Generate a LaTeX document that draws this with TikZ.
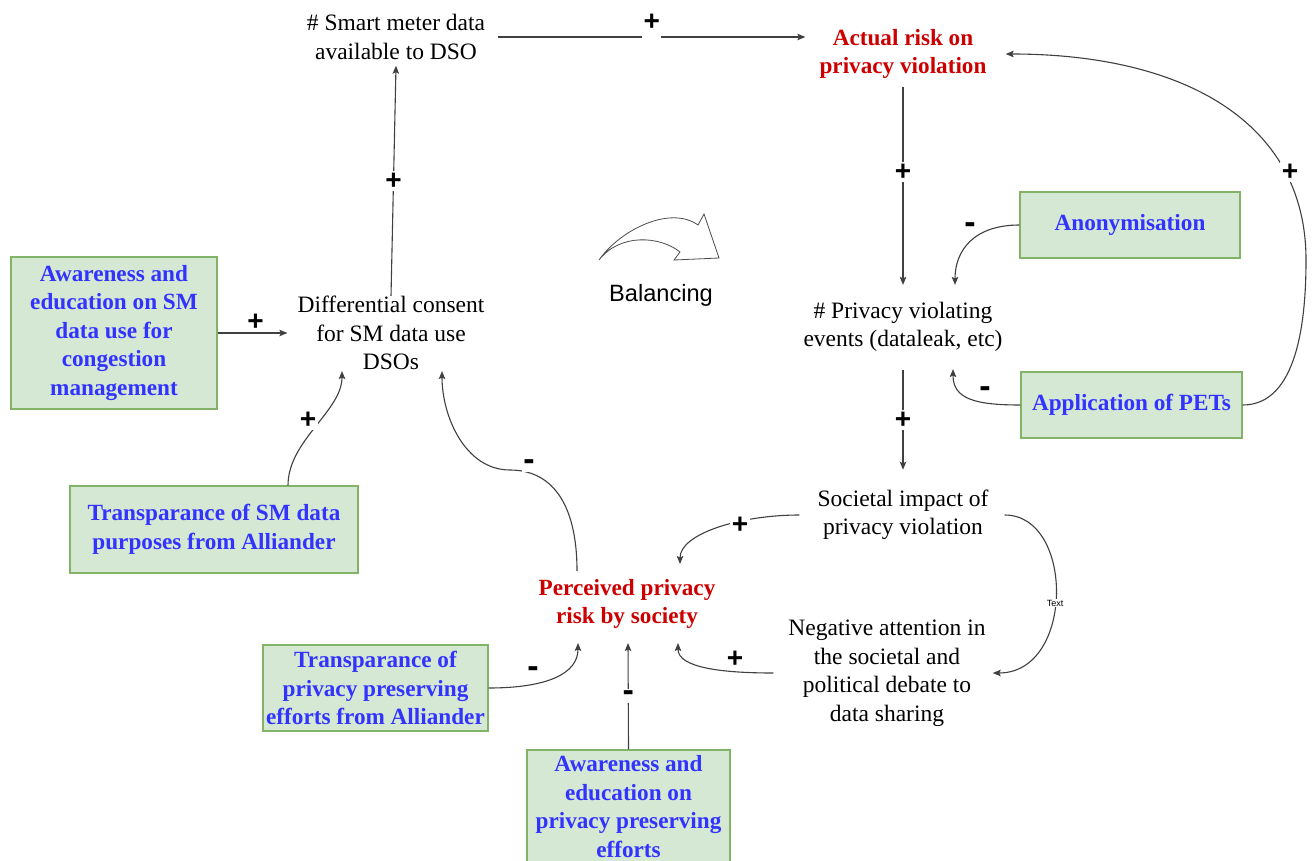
\documentclass[tikz,border=0pt]{standalone}
\usepackage{fontspec}
\setmainfont{Liberation Serif}
\newfontfamily\labelsans{Liberation Sans}
\usetikzlibrary{arrows.meta}
\definecolor{boxfill}{HTML}{D5E8D4}
\definecolor{boxline}{HTML}{82B366}
\definecolor{factorblue}{HTML}{3333FF}
\definecolor{riskred}{HTML}{CC0000}
\definecolor{edgegray}{HTML}{404040}

\tikzset{
  var/.style={align=center, inner sep=0pt, font=\fontsize{23.5}{28.5}\selectfont},
  risk/.style={align=center, inner sep=0pt, text=riskred, font=\bfseries\fontsize{23.2}{28.5}\selectfont},
  lever/.style={draw=boxline, fill=boxfill, line width=1.2pt, align=center, inner sep=2pt,
    text=factorblue, font=\bfseries\fontsize{23.2}{28.5}\selectfont},
  conn/.style={draw=edgegray, line width=1.1pt, -{Stealth[length=8pt,width=6.5pt,inset=1.5pt]}},
  pol/.style={fill=white, inner sep=1.5pt, text=black, font=\labelsans\bfseries\fontsize{28}{28}\selectfont},
  neg/.style={pol, font=\labelsans\bfseries\fontsize{34}{34}\selectfont},
  tinylbl/.style={fill=white, inner sep=0.5pt, text=black, font=\labelsans\fontsize{9}{9}\selectfont},
}

\begin{document}
\begin{tikzpicture}[x=1pt, y=-1pt]
\useasboundingbox (0,0) rectangle (1313,861);
\fill[white] (0,0) rectangle (1313,861);
\clip (0,0) rectangle (1313,861);

% causal variables
\node[var]  (smart)     at (396,37)  {\# Smart meter data\\available to DSO};
\node[risk] (actual)    at (903,54)  {Actual risk on\\privacy violation};
\node[var]  (privev)    at (903,327) {\# Privacy violating\\events (dataleak, etc)};
\node[var]  (societal)  at (903,515) {Societal impact of\\privacy violation};
\node[var]  (negative)  at (887,673) {Negative attention in\\the societal and\\political debate to\\data sharing};
\node[risk] (perceived) at (627,604) {Perceived privacy\\risk by society};
\node[var]  (diffc)     at (391,333) {Differential consent\\for SM data use\\DSOs};

% policy levers
\node[lever, minimum width=206pt, minimum height=152pt] (aware1) at (114,333)
  {Awareness and\\education on SM\\data use for\\congestion\\management};
\node[lever, minimum width=288pt, minimum height=87pt] (transp1) at (214,529.5)
  {Transparance of SM data\\purposes from Alliander};
\node[lever, minimum width=220pt, minimum height=66pt] (anonym) at (1130,225) {Anonymisation};
\node[lever, minimum width=221pt, minimum height=66pt] (pets) at (1131.5,405) {Application of PETs};
\node[lever, minimum width=225pt, minimum height=86pt] (transp2) at (375.5,688)
  {Transparance of\\privacy preserving\\efforts from Alliander};
\node[lever, minimum width=203pt, minimum height=113pt] (aware2) at (628.5,806.5)
  {Awareness and\\education on\\privacy preserving\\efforts};

% loop symbol
\draw[line width=0.8pt, draw=black!70, fill=white]
  (599,260) .. controls (620,230) and (670,205) .. (698,225) -- (704,214) -- (719,258)
  -- (674,260) -- (680,252) .. controls (660,236) and (620,233) .. (599,260) -- cycle;
\node[font=\labelsans\fontsize{23.6}{23.6}\selectfont] (bal) at (661,295) {Balancing};

% causal links
\draw[conn] (diffc.north) -- node[pol] (l1) {+} ([yshift=-6pt]smart.south);
\draw[conn] ([xshift=13pt]smart.east) -- node[pol, anchor=south, text depth=6pt, yshift=-2pt] (l2) {+}
  ([xshift=-14pt,yshift=17pt]actual.west);
\draw[conn] ([yshift=-8pt]actual.south) -- node[pol, pos=0.43] (l3) {+} ([yshift=17pt]privev.north);
\draw[conn] (anonym.west) .. controls +(-45,0) and +(0,-35) .. ([xshift=52pt,yshift=17pt]privev.north)
  node[neg] (l4) at (970,228) {-};
\draw[conn] (pets.west) .. controls +(-45,0) and +(0,30) .. ([xshift=50pt,yshift=-17pt]privev.south)
  node[neg] (l5) at (985,392) {-};
\draw[conn] (pets.east) .. controls +(55,0) and +(0,60) .. (1306,260)
  .. controls +(0,-140) and +(175,0) .. ([xshift=19pt]actual.east)
  node[pol] (l6) at (1290,172) {+};
\draw[conn] ([yshift=-18pt]privev.south) -- node[pol] (l7) {+} ([yshift=20pt]societal.north);
\draw[conn] ([xshift=-18pt]societal.west) .. controls +(-60,0) and +(0,-30) .. ([xshift=53pt,yshift=15pt]perceived.north)
  node[pol] (l8) at (740,525) {+};
\draw[conn] ([xshift=16pt]societal.east) .. controls +(70,0) and +(82,0) .. ([xshift=7pt]negative.east)
  node[tinylbl] (l9) at (1055,603) {Text};
\draw[conn] ([xshift=-15pt]negative.west) .. controls +(-50,0) and +(0,25) .. ([xshift=51pt,yshift=-14pt]perceived.south)
  node[pol] (l10) at (735,659) {+};
\draw[conn] ([xshift=-50pt,yshift=8pt]perceived.north) .. controls +(0,-70) and +(40,0) .. (510,470)
  .. controls +(-45,0) and +(0,45) .. ([xshift=51pt,yshift=-1pt]diffc.south)
  node[neg] (l11) at (529,465) {-};
\draw[conn] ([xshift=74pt]transp1.north) .. controls +(0,-45) and +(0,40) .. ([xshift=-49pt,yshift=-1pt]diffc.south)
  node[pol] (l12) at (308,420) {+};
\draw[conn] (aware1.east) -- node[pol, yshift=11pt, xshift=3pt] (l13) {+} ([xshift=-10pt]diffc.west);
\draw[conn] (transp2.east) .. controls +(60,0) and +(0,30) .. ([xshift=-49pt,yshift=-14pt]perceived.south)
  node[neg] (l14) at (533,672) {-};
\draw[conn] (aware2.north) -- node[neg] (l15) {-} ([xshift=1pt,yshift=-14pt]perceived.south);
\end{tikzpicture}
\end{document}
